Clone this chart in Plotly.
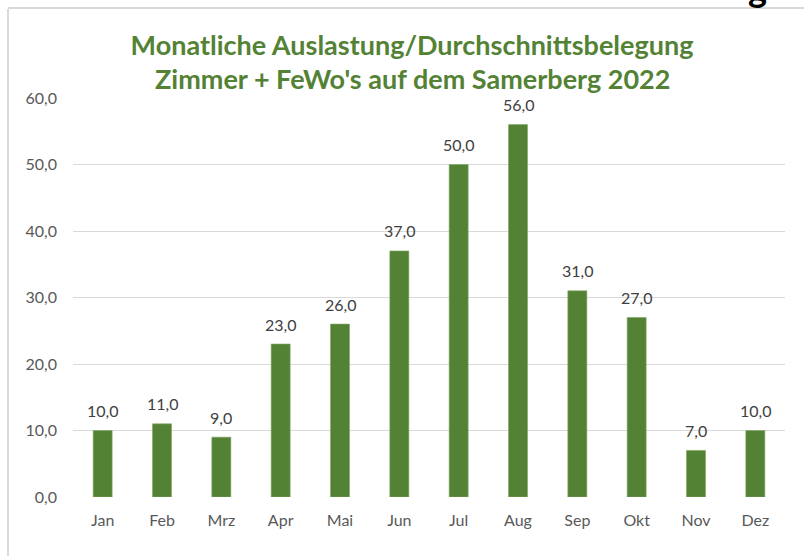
import plotly.graph_objects as go

months = ["Jan", "Feb", "Mrz", "Apr", "Mai", "Jun", "Jul", "Aug", "Sep", "Okt", "Nov", "Dez"]
values = [10, 11, 9, 23, 26, 37, 50, 56, 31, 27, 7, 10]
y_ticks = [0, 10, 20, 30, 40, 50, 60]
title_lines = ["Monatliche Auslastung/Durchschnittsbelegung", "Zimmer + FeWo's auf dem Samerberg 2022"]

GREEN = "#548235"
FONT = "Lato, 'Open Sans', sans-serif"

W, H = 804, 556
L, R, T, B = 73, 19, 98, 59
pw, ph = W - L - R, H - T - B


def px_x(x):
    return (x - L) / pw


def px_y(y):
    return 1 + (T - y) / ph


fig = go.Figure(go.Bar(
    x=months, y=values,
    marker=dict(color=GREEN, line=dict(color="#7fa662", width=0.6)),
    hoverinfo="x+y",
))

labels = [
    dict(x=m, y=v, xref="x", yref="y", yshift=20, yanchor="middle", xanchor="center",
         text=f"{v:.1f}".replace(".", ","), showarrow=False,
         font=dict(family=FONT, size=16, color="#404040"))
    for m, v in zip(months, values)
]

fig.update_layout(
    width=W, height=H,
    margin=dict(l=L, r=R, t=T, b=B),
    paper_bgcolor="white", plot_bgcolor="white",
    separators=",.",
    bargap=0.68,
    showlegend=False,
    title=dict(
        text=title_lines[0],
        x=412 / W, xanchor="center", y=1 - 46 / H, yanchor="middle",
        font=dict(family=FONT, size=27, color=GREEN, weight="bold"),
    ),
    xaxis=dict(
        showgrid=False, zeroline=False, showline=False, ticks="",
        ticklabelstandoff=12,
        tickfont=dict(family=FONT, size=16, color="#595959"),
    ),
    yaxis=dict(
        range=[0, 60], tickvals=y_ticks, tickformat=".1f",
        showgrid=True, gridcolor="#d9d9d9", gridwidth=1.3,
        zeroline=False, showline=False, ticks="",
        ticklabelstandoff=15,
        tickfont=dict(family=FONT, size=16, color="#595959"),
    ),
    shapes=[
        dict(type="line", xref="paper", yref="paper",
             x0=px_x(8), x1=px_x(8), y0=px_y(9), y1=px_y(H + 5),
             line=dict(color="#d9d9d9", width=2)),
        dict(type="line", xref="paper", yref="paper",
             x0=px_x(8), x1=px_x(W + 5), y0=px_y(8), y1=px_y(8),
             line=dict(color="#d9d9d9", width=2)),
    ],
    annotations=labels + [
        dict(text=title_lines[1], xref="paper", yref="paper",
             x=px_x(412), y=px_y(79), xanchor="center", yanchor="middle",
             showarrow=False, font=dict(family=FONT, size=27, color=GREEN, weight="bold")),
        dict(text="<b>g</b>", xref="paper", yref="paper",
             x=px_x(757), y=px_y(12), xanchor="center", yanchor="bottom",
             showarrow=False, font=dict(family=FONT, size=36, color="black")),
    ],
)

fig.write_html("out.html", config={"displayModeBar": False},
               post_script="document.body.style.margin='0';")
